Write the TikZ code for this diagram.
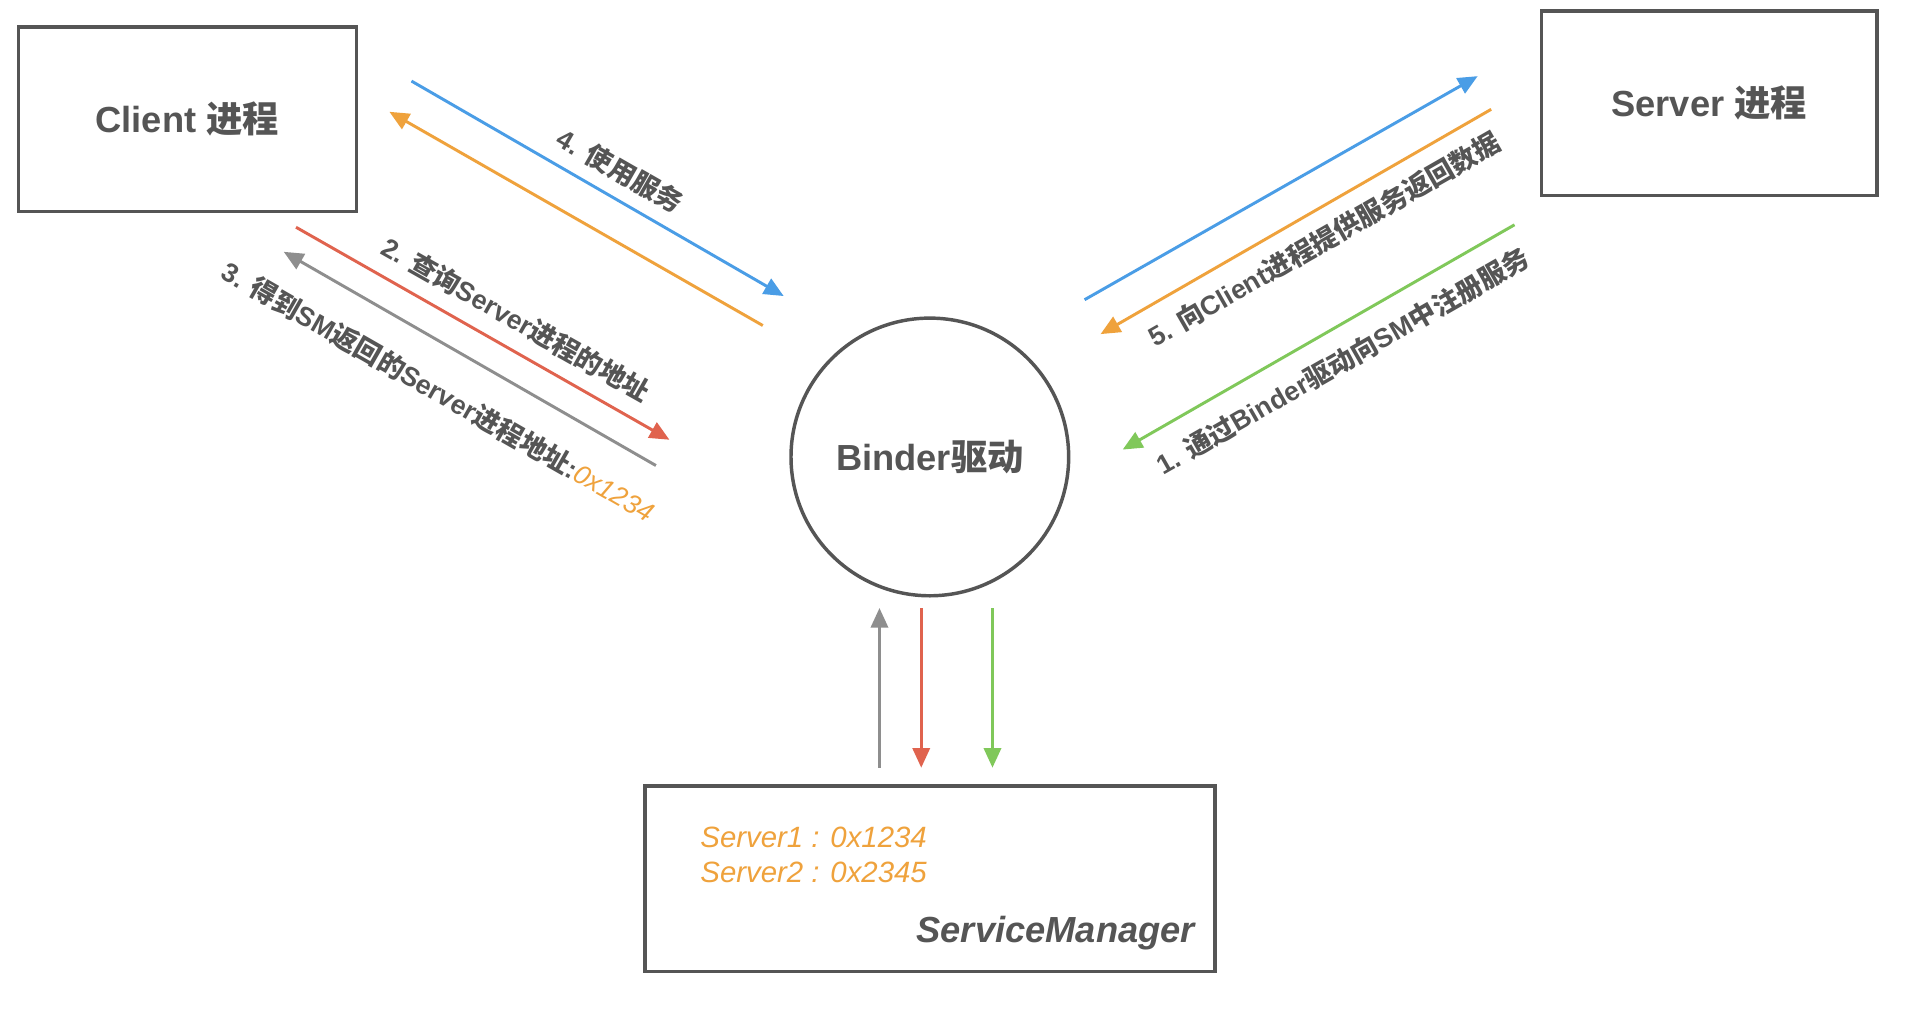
\documentclass[tikz,border=0pt]{standalone}
\usepackage{fontspec}
\setmainfont{Liberation Sans}
\newfontfamily\cjk{Noto Sans CJK SC}
\newcommand\zh[1]{{\cjk #1}}
\usetikzlibrary{arrows.meta}
\definecolor{ink}{HTML}{555555}
\definecolor{cblue}{HTML}{4A9DE6}
\definecolor{corange}{HTML}{EFA23C}
\definecolor{cred}{HTML}{E0634E}
\definecolor{cgray}{HTML}{8E8E8E}
\definecolor{cgreen}{HTML}{80C85A}
\tikzset{
  box/.style={draw=ink, line width=2pt, rectangle, inner sep=0pt, text=ink,
    font=\fontsize{21pt}{25pt}\selectfont\bfseries},
  flow/.style={line width=1.7pt, -{Triangle[length=0.4cm,width=0.35cm]}},
  lbl/.style={text=ink, inner sep=0pt, font=\fontsize{15.5pt}{18pt}\selectfont\bfseries},
  smtxt/.style={text=corange, inner sep=0pt, align=left,
    font=\fontsize{17pt}{20pt}\selectfont\itshape},
}
\begin{document}
\begin{tikzpicture}[x=0.025cm, y={(0,-0.025cm)}]
\useasboundingbox (0,0) rectangle (1568,824);
\fill[white] (0,0) rectangle (1568,824);

% main nodes
\node[box, minimum width=6.875cm, minimum height=3.75cm] (client) at (152.5,97) {Client \zh{进程}};
\node[box, minimum width=6.825cm, minimum height=3.75cm] (server) at (1391.5,84) {Server \zh{进程}};
\node[box, circle, minimum size=5.65cm] (binder) at (757,372) {Binder\zh{驱动}};
\node[box, minimum width=11.6cm, minimum height=3.775cm] (sm) at (757,715.5) {};
\node[smtxt, anchor=west] (smlist) at (570,696) {Server1 : 0x1234\\Server2 : 0x2345};
\node[text=ink, inner sep=0pt, anchor=east, font=\fontsize{21pt}{25pt}\selectfont\bfseries\itshape] (smname) at (973,760) {ServiceManager};

% arrow end points (left side)
\coordinate (a4s) at (335,66);   \coordinate (a4e) at (638,241);
\coordinate (a5s) at (621,265);  \coordinate (a5e) at (317,91);
\coordinate (a2s) at (241,185);  \coordinate (a2e) at (545,358);
\coordinate (a3s) at (534,379);  \coordinate (a3e) at (231,205);
% right side
\coordinate (b4s) at (883,244);  \coordinate (b4e) at (1203,62);
\coordinate (b5s) at (1214,89);  \coordinate (b5e) at (896,272);
\coordinate (b1s) at (1233,183); \coordinate (b1e) at (914,366);
% bottom
\coordinate (c3s) at (716,625);  \coordinate (c3e) at (716,495);
\coordinate (c2s) at (750,495);  \coordinate (c2e) at (750,625);
\coordinate (c1s) at (808,495);  \coordinate (c1e) at (808,625);

\draw[flow, cblue]   (a4s) -- (a4e);
\draw[flow, corange] (a5s) -- (a5e);
\draw[flow, cred]    (a2s) -- (a2e);
\draw[flow, cgray]   (a3s) -- (a3e);
\draw[flow, cblue]   (b4s) -- (b4e);
\draw[flow, corange] (b5s) -- (b5e);
\draw[flow, cgreen]  (b1s) -- (b1e);
\draw[flow, cgray]   (c3s) -- (c3e);
\draw[flow, cred]    (c2s) -- (c2e);
\draw[flow, cgreen]  (c1s) -- (c1e);

% labels
\node[lbl, rotate=-29.8] (l4) at (505,139) {4. \zh{使用服务}};
\node[lbl, rotate=-29.5] (l2) at (420,260) {2. \zh{查询}Server\zh{进程的地址}};
\node[lbl, rotate=-29.8] (l3) at (357,319) {3. \zh{得到}SM\zh{返回的}Server\zh{进程地址}:{\color{corange}\mdseries\itshape 0x1234}};
\node[lbl, rotate=29.8] (l5) at (1078,195) {5. \zh{向}Client\zh{进程提供服务返回数据}};
\node[lbl, rotate=29.8] (l1) at (1093,294) {1. \zh{通过}Binder\zh{驱动向}SM\zh{中注册服务}};
\end{tikzpicture}
\end{document}
